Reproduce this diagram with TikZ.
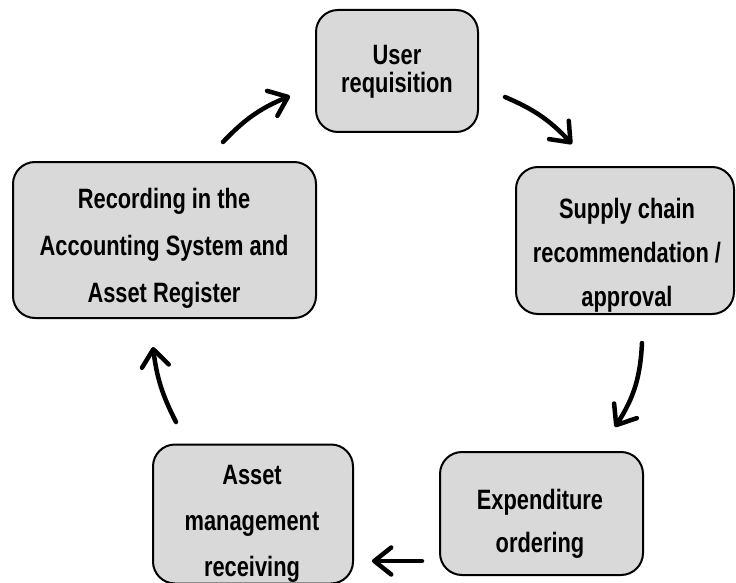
\documentclass[tikz,border=0pt]{standalone}
\usepackage{fontspec}
\setmainfont[FakeStretch=0.78]{Liberation Sans}
\usetikzlibrary{arrows.meta}
\definecolor{boxgray}{HTML}{D9D9D9}
\begin{document}
\begin{tikzpicture}[x=1pt,y=-1pt,
  box/.style={draw=black, line width=2pt, fill=boxgray, rounded corners=22pt, inner sep=0pt},
  lbl/.style={align=center, font=\fontsize{28}{#1}\selectfont\bfseries, inner sep=0pt},
  flow/.style={line width=4.5pt, line cap=round, -{Straight Barb[length=17pt,width=27pt,line cap=round,round]}}]
\useasboundingbox (0,0) rectangle (736,583);
\fill[white] (0,0) rectangle (736,583);
% boxes
\node[box, minimum width=162pt, minimum height=122pt] (b1) at (397,71) {};
\node[box, minimum width=218pt, minimum height=147pt] (b2) at (625,240.5) {};
\node[box, minimum width=203pt, minimum height=123pt] (b3) at (541.5,513.5) {};
\node[box, minimum width=200pt, minimum height=139pt] (b4) at (253,514) {};
\node[box, minimum width=303pt, minimum height=156pt] (b5) at (164.5,240) {};
% labels
\node[lbl=28] (t1) at (397,72) {User\\requisition};
\node[lbl=44] (t2) at (627,255) {Supply chain\\recommendation /\\approval};
\node[lbl=43] (t3) at (540,523.5) {Expenditure\\ordering};
\node[lbl=46] (t4) at (252,524) {Asset\\management\\receiving};
\node[lbl=47] (t5) at (164,248) {Recording in the\\Accounting System and\\Asset Register};
% connector ends
\coordinate (a1s) at (223,142); \coordinate (a1e) at (290,96);
\coordinate (a2s) at (505,97);  \coordinate (a2e) at (572,144);
\coordinate (a3s) at (642,343); \coordinate (a3e) at (615,427);
\coordinate (a4s) at (422,561); \coordinate (a4e) at (372,561);
\coordinate (a5s) at (176,422); \coordinate (a5e) at (153,347);
\draw[flow] (a1s) to[bend left=12] (a1e);
\draw[flow] (a2s) to[bend left=12] (a2e);
\draw[flow] (a3s) to[bend left=15] (a3e);
\draw[flow] (a4s) -- (a4e);
\draw[flow] (a5s) to[bend left=10] (a5e);
\end{tikzpicture}
\end{document}
